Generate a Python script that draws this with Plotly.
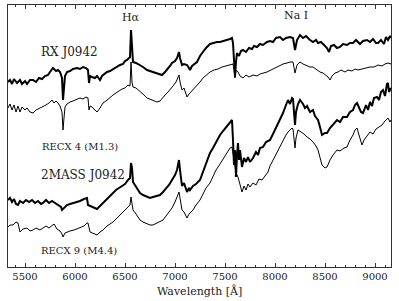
import plotly.graph_objects as go

# ---- data (wavelength in Angstrom, relative flux with offsets) ----
wave_rxj = [5330,5350,5370,5390,5420,5450,5470,5500,5520,5550,5580,5610,5640,5670,5700,5730,5750,5780,5810,5830,
            5850,5870,5880,5890,5900,5920,5950,5980,6020,6050,6080,6110,6130,6140,6150,6170,6200,6220,6250,6270,
            6300,6320,6350,6380,6420,6450,6480,6500,6520,6540,6550,6560,6570,6580,6610,6650,6680,6720,6750,6780,
            6820,6850,6870,6900,6920,6950,6970,7000,7020,7040,7050,7070,7090,7120,7140,7150,7170,7200,7220,7250,
            7280,7310,7350,7380,7420,7450,7490,7520,7550,7570,7580,7590,7600,7610,7620,7640,7660,7680,7710,7740,
            7770,7790,7820,7850,7880,7920,7950,7980,8010,8050,8080,8110,8150,8180,8200,8220,8250,8280,8310,8350,
            8380,8410,8430,8460,8490,8520,8540,8560,8590,8620,8650,8680,8720,8750,8780,8810,8850,8880,8920,8950,
            8980,9010,9030,9060,9090,9110,9130,9150,9160]
flux_rxj = [1.85,1.87,1.83,1.88,1.84,1.87,1.83,1.86,1.83,1.87,1.87,1.85,1.89,1.88,1.91,1.92,1.95,1.99,1.96,1.97,
            1.95,1.89,1.67,1.79,1.91,1.95,1.96,1.98,1.99,1.98,2.00,1.99,1.97,1.84,1.91,1.90,1.89,1.91,1.87,1.91,
            1.93,1.95,1.96,1.98,2.00,2.02,2.03,2.06,2.07,2.09,2.10,2.37,2.15,2.05,2.04,2.02,2.00,1.97,1.96,1.95,
            1.93,1.92,1.92,1.95,1.97,2.01,2.04,2.06,2.09,2.15,2.09,2.02,2.03,2.02,1.99,1.97,2.01,2.03,2.05,2.11,
            2.15,2.19,2.23,2.24,2.25,2.25,2.26,2.27,2.28,2.29,2.24,2.07,1.90,2.05,2.14,2.11,2.16,2.17,2.15,2.19,
            2.18,2.21,2.20,2.23,2.22,2.25,2.26,2.25,2.29,2.30,2.27,2.29,2.30,2.29,2.17,2.27,2.32,2.29,2.31,2.27,
            2.25,2.27,2.24,2.25,2.22,2.19,2.15,2.21,2.22,2.19,2.20,2.23,2.22,2.24,2.24,2.27,2.23,2.26,2.27,2.25,
            2.28,2.24,2.24,2.27,2.23,2.30,2.27,2.31,2.29]

wave_recx4 = [5330,5350,5370,5390,5410,5430,5450,5470,5500,5520,5550,5580,5610,5650,5680,5710,5740,5770,5790,5810,
              5830,5850,5870,5880,5890,5900,5920,5950,5980,6020,6050,6080,6110,6130,6140,6150,6170,6200,6220,6250,
              6280,6310,6350,6380,6410,6440,6470,6500,6530,6550,6560,6570,6580,6610,6650,6680,6720,6750,6780,6820,
              6850,6880,6910,6930,6950,6980,7010,7030,7040,7050,7070,7090,7120,7140,7160,7180,7210,7250,7280,7320,
              7350,7390,7430,7470,7510,7550,7580,7590,7600,7610,7630,7650,7680,7710,7740,7780,7820,7850,7890,7920,
              7960,8000,8040,8080,8120,8150,8180,8200,8220,8250,8280,8310,8350,8380,8410,8450,8480,8510,8530,8550,
              8570,8600,8630,8660,8700,8730,8770,8800,8830,8870,8910,8950,8990,9030,9070,9100,9130,9160]
flux_recx4 = [1.59,1.63,1.57,1.62,1.55,1.61,1.55,1.60,1.57,1.59,1.55,1.54,1.57,1.59,1.60,1.62,1.64,1.67,1.64,1.66,
              1.64,1.61,1.55,1.37,1.49,1.60,1.63,1.65,1.66,1.68,1.69,1.68,1.70,1.69,1.57,1.61,1.60,1.57,1.55,1.59,
              1.64,1.66,1.70,1.72,1.74,1.76,1.78,1.79,1.82,1.81,2.05,1.85,1.80,1.79,1.76,1.73,1.69,1.68,1.67,1.65,
              1.66,1.70,1.73,1.75,1.77,1.81,1.85,1.89,1.92,1.85,1.77,1.79,1.70,1.73,1.75,1.77,1.81,1.85,1.89,1.93,
              1.95,1.97,1.98,2.00,2.01,2.02,2.03,1.97,1.89,1.97,1.95,1.91,1.89,1.92,1.90,1.92,1.91,1.93,1.94,1.95,
              1.97,1.99,2.01,2.03,2.04,2.05,2.05,1.94,2.02,2.05,2.03,2.02,2.00,2.00,1.98,1.95,1.94,1.92,1.90,1.87,
              1.91,1.94,1.95,1.97,1.95,1.97,1.96,1.98,1.97,1.98,1.99,2.00,2.00,2.02,2.01,2.03,2.04,2.03]

wave_2mass = [5330,5350,5370,5390,5410,5430,5450,5480,5510,5540,5570,5600,5630,5660,5680,5710,5740,5770,5800,5830,
              5860,5870,5890,5920,5950,5990,6020,6050,6090,6120,6130,6150,6180,6220,6250,6280,6320,6350,6380,6410,
              6440,6470,6500,6530,6550,6560,6570,6580,6610,6650,6680,6720,6750,6780,6820,6850,6880,6910,6940,6970,
              7000,7020,7040,7050,7070,7090,7120,7140,7150,7180,7210,7250,7280,7310,7350,7380,7410,7450,7480,7510,
              7540,7570,7580,7590,7600,7610,7620,7630,7640,7650,7670,7690,7710,7730,7750,7780,7810,7830,7850,7880,
              7910,7950,7980,8010,8050,8080,8110,8130,8150,8170,8180,8190,8200,8210,8230,8250,8280,8300,8320,8350,
              8380,8400,8430,8450,8470,8500,8520,8550,8590,8620,8650,8680,8720,8750,8780,8800,8820,8840,8860,8880,
              8910,8930,8950,8970,8990,9020,9040,9060,9080,9100,9120,9130,9140,9160]
flux_2mass = [0.67,0.69,0.65,0.68,0.63,0.62,0.66,0.64,0.67,0.65,0.67,0.64,0.66,0.63,0.64,0.67,0.64,0.66,0.64,0.62,
              0.60,0.57,0.59,0.62,0.63,0.64,0.65,0.66,0.68,0.69,0.62,0.61,0.60,0.58,0.61,0.64,0.69,0.72,0.74,0.77,
              0.79,0.81,0.83,0.87,0.89,1.04,0.99,0.85,0.80,0.74,0.72,0.70,0.69,0.70,0.71,0.72,0.75,0.78,0.82,0.87,
              0.92,0.97,1.07,0.97,0.81,0.84,0.75,0.79,0.77,0.81,0.83,0.87,0.95,1.04,1.14,1.19,1.25,1.32,1.36,1.40,
              1.44,1.47,1.27,1.02,1.17,0.90,1.12,1.24,1.07,1.17,1.00,1.09,1.05,1.10,1.05,1.09,1.15,1.12,1.19,1.20,
              1.25,1.27,1.33,1.39,1.47,1.54,1.62,1.67,1.63,1.69,1.68,1.57,1.42,1.55,1.63,1.67,1.63,1.59,1.61,1.55,
              1.57,1.51,1.47,1.40,1.32,1.34,1.34,1.39,1.43,1.47,1.45,1.50,1.50,1.55,1.57,1.62,1.64,1.59,1.55,1.54,
              1.62,1.57,1.65,1.61,1.69,1.70,1.67,1.75,1.77,1.71,1.83,1.84,1.75,1.79]

wave_recx9 = [5330,5350,5380,5410,5430,5450,5480,5520,5550,5580,5610,5650,5680,5710,5740,5770,5790,5820,5850,5870,
              5880,5900,5920,5950,5990,6020,6050,6090,6120,6130,6150,6180,6220,6250,6280,6320,6350,6380,6410,6440,
              6470,6500,6530,6550,6560,6570,6580,6610,6650,6680,6720,6750,6780,6820,6850,6880,6910,6940,6970,7000,
              7020,7040,7050,7070,7090,7120,7140,7160,7180,7210,7250,7280,7310,7350,7380,7410,7450,7480,7510,7550,
              7570,7590,7610,7630,7650,7670,7690,7710,7730,7750,7780,7810,7840,7870,7900,7930,7950,7980,8010,8050,
              8080,8110,8130,8150,8170,8180,8200,8210,8230,8260,8290,8320,8350,8380,8410,8430,8450,8470,8500,8520,
              8550,8580,8620,8650,8690,8720,8750,8780,8800,8820,8840,8870,8890,8920,8950,8980,9010,9040,9070,9100,
              9130,9150,9160]
flux_recx9 = [0.40,0.42,0.42,0.45,0.44,0.35,0.38,0.39,0.36,0.37,0.39,0.37,0.39,0.41,0.39,0.42,0.43,0.38,0.36,0.33,
              0.30,0.34,0.35,0.36,0.37,0.38,0.39,0.41,0.44,0.44,0.35,0.34,0.32,0.35,0.37,0.41,0.43,0.45,0.48,0.51,
              0.53,0.57,0.60,0.62,0.70,0.64,0.57,0.53,0.47,0.45,0.43,0.42,0.42,0.44,0.45,0.47,0.51,0.55,0.59,0.65,
              0.70,0.75,0.69,0.57,0.55,0.49,0.53,0.55,0.57,0.62,0.67,0.73,0.79,0.84,0.91,0.97,1.03,1.08,1.13,1.19,
              1.20,1.07,0.94,0.90,0.82,0.75,0.81,0.77,0.83,0.80,0.84,0.82,0.88,0.87,0.91,0.95,1.01,1.07,1.12,1.20,
              1.26,1.32,1.35,1.37,1.39,1.38,1.19,1.29,1.37,1.35,1.33,1.30,1.28,1.25,1.21,1.17,1.10,1.02,0.99,1.00,
              1.07,1.12,1.17,1.16,1.19,1.20,1.27,1.32,1.37,1.39,1.32,1.22,1.27,1.31,1.35,1.33,1.38,1.40,1.42,1.46,
              1.49,1.45,1.47]

spectra = [
    ("RX J0942", wave_rxj, flux_rxj, 2.0),
    ("RECX 4 (M1.3)", wave_recx4, flux_recx4, 1.0),
    ("2MASS J0942", wave_2mass, flux_2mass, 2.0),
    ("RECX 9 (M4.4)", wave_recx9, flux_recx9, 1.0),
]

# label anchors (wavelength, flux, text, size)
labels = [
    (5640, 2.15, "RX J0942", 12),
    (5650, 1.21, "RECX 4 (M1.3)", 10),
    (5640, 0.92, "2MASS J0942", 12),
    (5640, 0.17, "RECX 9 (M4.4)", 10),
]
line_ids = [(6560, 2.50, "Hα"), (8210, 2.52, "Na I")]

FONT = "DejaVu Serif"

fig = go.Figure()
for name, w, f, lw in spectra:
    fig.add_trace(go.Scatter(x=w, y=f, mode="lines", name=name,
                             line=dict(color="black", width=lw), showlegend=False))

for x, y, t, s in labels:
    fig.add_annotation(x=x, y=y, text=t, showarrow=False, xanchor="left", yanchor="middle",
                       font=dict(family=FONT, size=s, color="#222"))
for x, y, t in line_ids:
    fig.add_annotation(x=x, y=y, text=t, showarrow=False, xanchor="center", yanchor="middle",
                       font=dict(family=FONT, size=11, color="#222"))

# x-axis title placed just below the tick labels
fig.add_annotation(x=0.5, y=-0.092, xref="paper", yref="paper", text="Wavelength [Å]",
                   showarrow=False, xanchor="center", yanchor="middle",
                   font=dict(family=FONT, size=11, color="#222"))

fig.update_layout(
    width=399, height=301,
    margin=dict(l=8, r=8, t=5, b=34, autoexpand=False),
    paper_bgcolor="white", plot_bgcolor="white",
    font=dict(family=FONT, size=10, color="#222"),
)
fig.update_xaxes(range=[5330, 9160], showgrid=False, zeroline=False, automargin=False,
                 showline=True, linecolor="#333", linewidth=1, mirror="allticks",
                 ticks="inside", ticklen=4, tickcolor="#333", dtick=500, tick0=5000,
                 minor=dict(ticks="inside", ticklen=2, dtick=100, tickcolor="#333"),
                 tickfont=dict(family=FONT, size=10))
fig.update_yaxes(range=[0, 2.62], showgrid=False, zeroline=False, automargin=False,
                 showline=True, linecolor="#333", linewidth=1, mirror=True,
                 showticklabels=False, ticks="")

fig.write_html("out.html", config={"displayModeBar": False},
               post_script="document.body.style.margin='0';document.body.style.padding='0';"
                           "document.documentElement.style.overflow='hidden';")
